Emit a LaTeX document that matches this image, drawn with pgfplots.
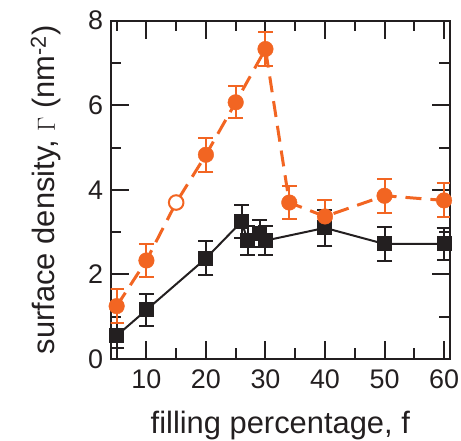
\documentclass[border=0pt]{standalone}
\usepackage{fontspec}
\setmainfont{Liberation Sans}
\usepackage{pgfplots}
\pgfplotsset{compat=1.18}
\definecolor{orangeS}{HTML}{F26522}
\definecolor{blackS}{HTML}{231F20}

\begin{document}
\begin{tikzpicture}
\begin{axis}[
  scale only axis,
  width=339.3bp, height=338.3bp,
  xmin=4, xmax=61, ymin=0, ymax=8,
  xtick={10,20,...,60}, minor xtick={5,15,...,55},
  ytick={0,2,...,8}, minor ytick={1,3,5,7},
  tick align=inside,
  major tick length=18bp, minor tick length=10.5bp,
  tick style={blackS, line width=2bp},
  axis line style={blackS, line width=2bp},
  /pgf/number format/assume math mode=true,
  tick label style={font=\fontsize{27}{27}\selectfont, text=blackS},
  yticklabel style={anchor=east, inner sep=0pt, xshift=-7.5bp},
  xticklabel style={anchor=north, inner sep=0pt, yshift=-11bp},
  label style={font=\fontsize{31}{31}\selectfont, text=blackS},
  xlabel={filling percentage, f},
  ylabel={surface density, $\Gamma$ (nm\textsuperscript{-2})},
  xlabel style={at={(axis description cs:0.5,-0.2217)}, anchor=base},
  ylabel style={at={(axis description cs:-0.1642,0.5)}, anchor=base},
]
% black squares, solid line
\addplot[blackS, line width=2bp, mark=square*, mark size=6.5bp,
  error bars/.cd, y dir=both, y explicit,
  error bar style={line width=2bp},
  error mark options={rotate=90, mark size=7.5bp, line width=2bp}]
  table[x=x, y=y, y error=e] {
x  y    e
5  0.55 0.30
10 1.16 0.38
20 2.38 0.40
26 3.25 0.38
27 2.80 0.35
29 2.97 0.32
30 2.80 0.35
40 3.10 0.42
50 2.72 0.40
60 2.72 0.38
};
% orange dashed line through all points
\addplot[orangeS, line width=3bp, dash pattern=on 16bp off 9bp, no marks]
  table[x=x, y=y] {
x  y
5  1.25
10 2.33
15 3.70
20 4.83
25 6.07
30 7.33
34 3.70
40 3.37
50 3.86
60 3.75
};
% orange filled circles with error bars
\addplot[orangeS, only marks, mark=*, mark size=7.8bp,
  error bars/.cd, y dir=both, y explicit,
  error bar style={line width=2bp},
  error mark options={rotate=90, mark size=7.5bp, line width=2bp}]
  table[x=x, y=y, y error=e] {
x  y    e
5  1.25 0.40
10 2.33 0.40
20 4.83 0.40
25 6.07 0.38
30 7.33 0.40
34 3.70 0.39
40 3.37 0.39
50 3.86 0.40
60 3.75 0.40
};
% open circle
\addplot[orangeS, only marks, mark=*, mark size=7.3bp,
  mark options={fill=white, draw=orangeS, line width=2bp}]
  coordinates {(15,3.70)};
\end{axis}
\pgfresetboundingbox
\path ([shift={(-110.7bp,-82bp)}]current axis.south west)
  rectangle ([shift={(11bp,20.7bp)}]current axis.north east);
\end{tikzpicture}
\end{document}
